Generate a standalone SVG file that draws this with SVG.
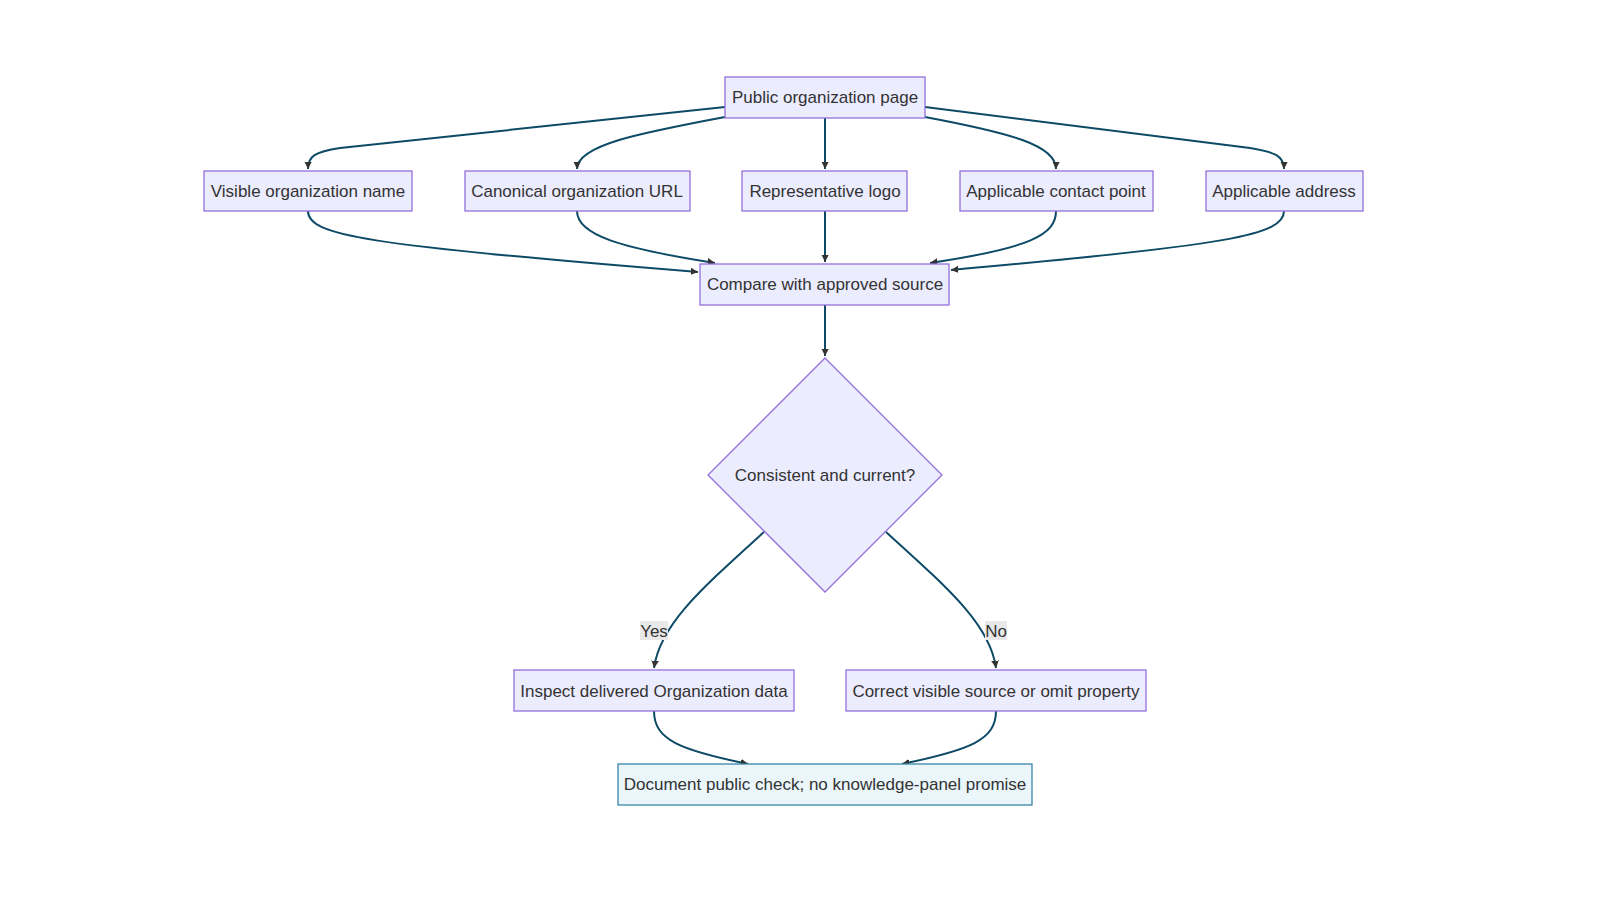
<svg xmlns="http://www.w3.org/2000/svg" width="1600" height="900" viewBox="0 0 1600 900">
<style>
.n rect,.n polygon{fill:#ECECFF;stroke:#9370DB;stroke-width:1.3}
.n.end rect{fill:#EAF6FA;stroke:#3a86a8}
text{font-family:"Liberation Sans",Arial,sans-serif;font-size:17px;fill:#333;text-anchor:middle;dominant-baseline:central}
.e path{fill:none;stroke:#0d4a66;stroke-width:2;marker-end:url(#a)}
.lb{fill:#e8e8e8}
</style>
<defs><marker id="a" viewBox="0 0 10 10" refX="9" refY="5" markerWidth="8" markerHeight="8" orient="auto-start-reverse" markerUnits="userSpaceOnUse"><path d="M0,0L10,5L0,10z" fill="#333" transform="scale(1.4) translate(-3.5,-1.5)"/></marker></defs>
<rect width="1600" height="900" fill="#fff"/>
<g class="e">
<path d="M725,107 L340,148 C315,152 308,156 308,169"/>
<path d="M725,117 C640,133 577,145 577,169"/>
<path d="M825,118 L825,169"/>
<path d="M925,117 C1010,133 1056,145 1056,169"/>
<path d="M925,107 L1250,148 C1275,152 1284,156 1284,169"/>
<path d="M308,211 C308,235 360,245 698,272"/>
<path d="M577,211 C577,235 620,248 715,263"/>
<path d="M825,211 L825,262"/>
<path d="M1056,211 C1056,235 1030,248 930,263"/>
<path d="M1284,211 C1284,235 1230,245 951,270"/>
<path d="M825,305 L825,356"/>
<path d="M764,532 C700,590 660,625 654,668"/>
<path d="M886,532 C950,590 990,625 996,668"/>
<path d="M654,711 C654,740 680,750 748,764"/>
<path d="M996,711 C996,740 970,750 902,764"/>
</g>
<rect class="lb" x="640" y="621" width="28" height="19"/><text x="654" y="631">Yes</text>
<rect class="lb" x="985" y="621" width="22" height="19"/><text x="996" y="631">No</text>
<g id="n1" class="n"><rect x="725" y="77" width="200" height="41"/><text x="825" y="97">Public organization page</text></g>
<g id="n2" class="n"><rect x="204" y="171" width="208" height="40"/><text x="308" y="191">Visible organization name</text></g>
<g id="n3" class="n"><rect x="465" y="171" width="225" height="40"/><text x="577" y="191">Canonical organization URL</text></g>
<g id="n4" class="n"><rect x="742" y="171" width="165" height="40"/><text x="825" y="191">Representative logo</text></g>
<g id="n5" class="n"><rect x="960" y="171" width="193" height="40"/><text x="1056" y="191">Applicable contact point</text></g>
<g id="n6" class="n"><rect x="1206" y="171" width="157" height="40"/><text x="1284" y="191">Applicable address</text></g>
<g id="n7" class="n"><rect x="700" y="264" width="249" height="41"/><text x="825" y="284">Compare with approved source</text></g>
<g id="n8" class="n"><polygon points="825,358 942,475 825,592 708,475"/><text x="825" y="475">Consistent and current?</text></g>
<g id="n9" class="n"><rect x="514" y="670" width="280" height="41"/><text x="654" y="691">Inspect delivered Organization data</text></g>
<g id="n10" class="n"><rect x="846" y="670" width="300" height="41"/><text x="996" y="691">Correct visible source or omit property</text></g>
<g id="n11" class="n end"><rect x="618" y="764" width="414" height="41"/><text x="825" y="784">Document public check; no knowledge-panel promise</text></g>
</svg>
